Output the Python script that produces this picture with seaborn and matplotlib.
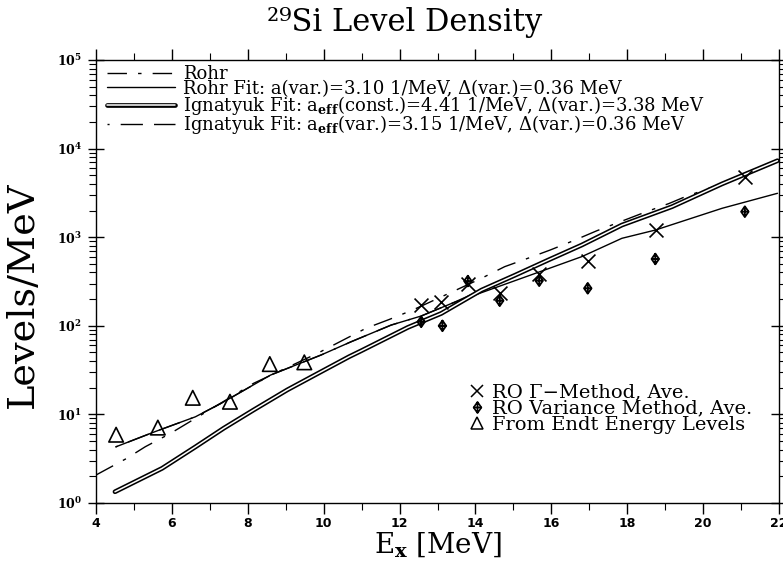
import numpy as np
import pandas as pd
import matplotlib
matplotlib.use("Agg")
import matplotlib.pyplot as plt
import seaborn as sns
from matplotlib.lines import Line2D
from matplotlib.path import Path
import matplotlib.patheffects as pe
from matplotlib.ticker import MultipleLocator, LogLocator, NullFormatter, FuncFormatter

# ---------------- data ----------------
endt_x = [4.53, 5.63, 6.55, 7.53, 8.58, 9.49]
endt_y = [5.9, 7.1, 15.4, 13.9, 37.0, 38.7]

gamma_x = [12.57, 13.10, 13.80, 14.64, 15.68, 16.96, 18.77, 21.10]
gamma_y = [172, 187, 294, 236, 384, 539, 1206, 4820]

var_x = [12.57, 13.13, 13.80, 14.64, 15.68, 16.96, 18.74, 21.10]
var_y = [111, 100, 320, 192, 323, 265, 568, 1941]

rohr_x = [4.0, 4.81, 5.3, 5.96, 7.06, 8.15, 9.84, 10.54, 11.12, 11.73, 12.35, 13.4,
          14.16, 14.77, 15.39, 15.97, 16.58, 17.2, 17.82, 18.45, 19.1, 19.53, 20.77, 21.57, 22.0]
rohr_y = [2.07, 3.19, 4.32, 6.1, 11.7, 22.4, 49, 70, 94, 118, 151, 243,
          344, 465, 580, 717, 912, 1183, 1496, 1900, 2400, 2865, 4420, 6250, 7400]

rohrfit_x = [4.52, 5.56, 6.62, 7.32, 8.6, 9.93, 10.72, 11.78, 12.57, 13.4, 15.7, 16.8,
             17.86, 18.74, 20.5, 21.96]
rohrfit_y = [4.3, 6.4, 9.4, 13.5, 27.8, 46.8, 66, 102, 129, 181, 408, 603,
             972, 1204, 2120, 3130]

ignc_x = [4.5, 5.74, 6.62, 7.37, 8.15, 9.04, 9.93, 10.67, 10.98, 12.22, 13.1, 14.16,
          15.04, 15.92, 16.8, 17.86, 19.18, 20.5, 21.96]
ignc_y = [1.34, 2.46, 4.3, 7.0, 11.2, 18.9, 30.3, 44.8, 52, 96, 138, 253,
          372, 553, 815, 1372, 2210, 4000, 7300]

ignv_x = [4.52, 5.56, 6.62, 7.32, 8.6, 9.93, 10.72, 11.78, 12.57, 13.4, 14.16,
          15.04, 15.92, 16.8, 17.86, 19.18, 20.5, 21.96]
ignv_y = [4.3, 6.4, 9.4, 13.5, 27.8, 46.8, 66, 102, 129, 181, 253,
          372, 553, 815, 1372, 2210, 4000, 7300]

legend_labels = [
    "Rohr",
    "Rohr Fit: a(var.)=3.10 1/MeV, \u0394(var.)=0.36 MeV",
    r"Ignatyuk Fit: a$_{\mathbf{eff}}$(const.)=4.41 1/MeV, $\Delta$(var.)=3.38 MeV",
    r"Ignatyuk Fit: a$_{\mathbf{eff}}$(var.)=3.15 1/MeV, $\Delta$(var.)=0.36 MeV",
]
point_labels = ["RO \u0393\u2212Method, Ave.", "RO Variance Method, Ave.",
                "From Endt Energy Levels"]

# ---------------- style ----------------
sns.set_style("ticks")
plt.rcParams["font.family"] = ["DejaVu Serif"]
plt.rcParams["mathtext.fontset"] = "dejavuserif"
plt.rcParams["lines.scale_dashes"] = False
plt.rcParams["axes.linewidth"] = 1.0
plt.rcParams["text.color"] = "black"
plt.rcParams["axes.labelcolor"] = "black"

fig = plt.figure(figsize=(7.83, 5.72), dpi=100)
ax = fig.add_axes([0.1226, 0.1206, 0.8723, 0.7745])

rohr_ls = (0, (14, 8, 2.5, 8))
ignv_ls = (0, (1.5, 8, 16, 8, 16, 8))
double_fx = [pe.Stroke(linewidth=3.4, foreground="k"), pe.Normal()]

sns.lineplot(x=ignv_x, y=ignv_y, ax=ax, color="k", lw=1.0, linestyle=ignv_ls,
             estimator=None, sort=False)
sns.lineplot(x=rohr_x, y=rohr_y, ax=ax, color="k", lw=1.0, linestyle=rohr_ls,
             estimator=None, sort=False)
sns.lineplot(x=rohrfit_x, y=rohrfit_y, ax=ax, color="k", lw=1.0,
             estimator=None, sort=False)
sns.lineplot(x=ignc_x, y=ignc_y, ax=ax, color="w", lw=1.1, path_effects=double_fx,
             estimator=None, sort=False)

diam = Path([(0, 1), (0.7, 0), (0, -1), (-0.7, 0), (0, 1),
             (0, 1), (0, -1), (-0.7, 0), (0.7, 0)],
            [Path.MOVETO, Path.LINETO, Path.LINETO, Path.LINETO, Path.CLOSEPOLY,
             Path.MOVETO, Path.LINETO, Path.MOVETO, Path.LINETO])

sns.scatterplot(x=gamma_x, y=gamma_y, ax=ax, marker="x", s=100, color="k",
                linewidth=1.2, zorder=5)
sns.scatterplot(x=var_x, y=var_y, ax=ax, marker=diam, s=60, facecolors="none",
                edgecolors="k", linewidth=1.3, zorder=5)
sns.scatterplot(x=endt_x, y=endt_y, ax=ax, marker="^", s=110, facecolors="none",
                edgecolors="k", linewidth=1.2, zorder=5)

ax.set_yscale("log")
ax.set_xlim(4, 22)
ax.set_ylim(1, 1e5)
ax.xaxis.set_major_locator(MultipleLocator(2))
ax.xaxis.set_minor_locator(MultipleLocator(1))
ax.yaxis.set_major_locator(LogLocator(base=10, numticks=10))
ax.yaxis.set_minor_locator(LogLocator(base=10, subs=np.arange(2, 10), numticks=20))
ax.yaxis.set_minor_formatter(NullFormatter())
ax.yaxis.set_major_formatter(FuncFormatter(lambda v, p: r"$\mathbf{10^{%d}}$" % round(np.log10(v))))
for s in ax.spines.values():
    s.set_visible(True)
    s.set_color("k")

ax.tick_params(which="both", top=True, right=True, direction="out", colors="k",
               labelsize=9, labelfontfamily="DejaVu Sans")
ax.tick_params(which="major", length=8, width=1.0, pad=2)
ax.tick_params(which="minor", length=5, width=0.8)
ax.tick_params(axis="y", which="major", direction="inout", length=12, pad=4)
plt.setp(ax.get_xticklabels(), fontweight="bold")

ax.set_xlabel(r"E$_{\mathsf{\mathbf{x}}}$ [MeV]", fontsize=20)
ax.xaxis.set_label_coords(0.5, -0.06)
ax.set_ylabel("Levels/MeV", fontsize=27.5)
ax.yaxis.set_label_coords(-0.08, 0.47)
fig.text(0.517, 0.96, "\u00b2\u2079Si Level Density", ha="center", va="center",
         fontsize=22)

h1 = [Line2D([], [], color="k", lw=1.0, linestyle=rohr_ls),
      Line2D([], [], color="k", lw=1.0),
      Line2D([], [], color="w", lw=1.1, path_effects=double_fx),
      Line2D([], [], color="k", lw=1.0, linestyle=ignv_ls)]
leg1 = ax.legend(h1, legend_labels, loc="upper left", bbox_to_anchor=(0.016, 0.988),
                 frameon=False, fontsize=13, handlelength=3.75, handletextpad=0.45,
                 labelspacing=-0.2, borderpad=0, borderaxespad=0)
ax.add_artist(leg1)

h2 = [Line2D([], [], color="k", ls="none", marker="x", ms=9, mew=1.1),
      Line2D([], [], color="k", ls="none", marker=diam, ms=8, mew=1.2, fillstyle="none"),
      Line2D([], [], color="k", ls="none", marker="^", ms=9, mew=1.1, fillstyle="none")]
ax.legend(h2, point_labels, loc="upper left", bbox_to_anchor=(0.549, 0.27),
          frameon=False, fontsize=14, handlelength=0.6, handletextpad=0.5,
          labelspacing=-0.1, borderpad=0, borderaxespad=0)

fig.savefig("out.png", dpi=100)
